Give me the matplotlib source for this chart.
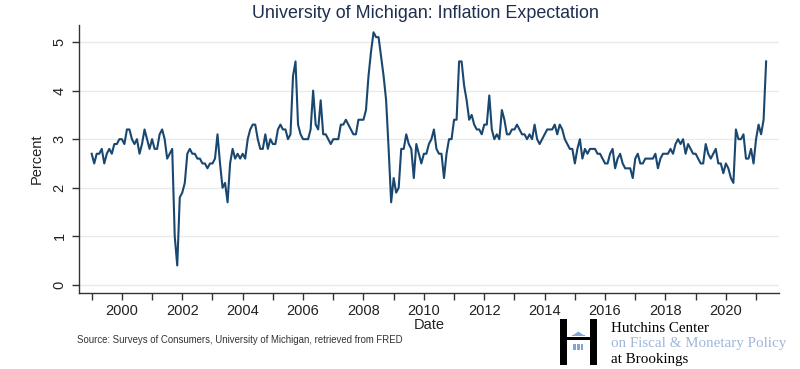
import numpy as np
import matplotlib
matplotlib.use("Agg")
import matplotlib.pyplot as plt
from matplotlib.patches import Rectangle, Polygon

plt.rcParams["font.family"] = ["Liberation Sans", "DejaVu Sans"]

# University of Michigan 1-year inflation expectation (monthly, Jan 1999 - May 2021)
start_year = 1999
mich = {
    1999: [2.7, 2.5, 2.7, 2.7, 2.8, 2.5, 2.7, 2.8, 2.7, 2.9, 2.9, 3.0],
    2000: [3.0, 2.9, 3.2, 3.2, 3.0, 2.9, 3.0, 2.7, 2.9, 3.2, 3.0, 2.8],
    2001: [3.0, 2.8, 2.8, 3.1, 3.2, 3.0, 2.6, 2.7, 2.8, 1.0, 0.4, 1.8],
    2002: [1.9, 2.1, 2.7, 2.8, 2.7, 2.7, 2.6, 2.6, 2.5, 2.5, 2.4, 2.5],
    2003: [2.5, 2.6, 3.1, 2.5, 2.0, 2.1, 1.7, 2.5, 2.8, 2.6, 2.7, 2.6],
    2004: [2.7, 2.6, 3.0, 3.2, 3.3, 3.3, 3.0, 2.8, 2.8, 3.1, 2.8, 3.0],
    2005: [2.9, 2.9, 3.2, 3.3, 3.2, 3.2, 3.0, 3.1, 4.3, 4.6, 3.3, 3.1],
    2006: [3.0, 3.0, 3.0, 3.2, 4.0, 3.3, 3.2, 3.8, 3.1, 3.1, 3.0, 2.9],
    2007: [3.0, 3.0, 3.0, 3.3, 3.3, 3.4, 3.3, 3.2, 3.1, 3.1, 3.4, 3.4],
    2008: [3.4, 3.6, 4.3, 4.8, 5.2, 5.1, 5.1, 4.7, 4.3, 3.8, 2.8, 1.7],
    2009: [2.2, 1.9, 2.0, 2.8, 2.8, 3.1, 2.9, 2.8, 2.2, 2.9, 2.7, 2.5],
    2010: [2.7, 2.7, 2.9, 3.0, 3.2, 2.8, 2.7, 2.7, 2.2, 2.7, 3.0, 3.0],
    2011: [3.4, 3.4, 4.6, 4.6, 4.1, 3.8, 3.4, 3.5, 3.3, 3.2, 3.2, 3.1],
    2012: [3.3, 3.3, 3.9, 3.2, 3.0, 3.1, 3.0, 3.6, 3.4, 3.1, 3.1, 3.2],
    2013: [3.2, 3.3, 3.2, 3.1, 3.1, 3.0, 3.1, 3.0, 3.3, 3.0, 2.9, 3.0],
    2014: [3.1, 3.2, 3.2, 3.2, 3.3, 3.1, 3.3, 3.2, 3.0, 2.9, 2.8, 2.8],
    2015: [2.5, 2.8, 3.0, 2.6, 2.8, 2.7, 2.8, 2.8, 2.8, 2.7, 2.7, 2.6],
    2016: [2.5, 2.5, 2.7, 2.8, 2.4, 2.6, 2.7, 2.5, 2.4, 2.4, 2.4, 2.2],
    2017: [2.6, 2.7, 2.5, 2.5, 2.6, 2.6, 2.6, 2.6, 2.7, 2.4, 2.6, 2.7],
    2018: [2.7, 2.7, 2.8, 2.7, 2.9, 3.0, 2.9, 3.0, 2.7, 2.9, 2.8, 2.7],
    2019: [2.7, 2.6, 2.5, 2.5, 2.9, 2.7, 2.6, 2.7, 2.8, 2.5, 2.5, 2.3],
    2020: [2.5, 2.4, 2.2, 2.1, 3.2, 3.0, 3.0, 3.1, 2.6, 2.6, 2.8, 2.5],
    2021: [3.0, 3.3, 3.1, 3.4, 4.6],
}
values = np.concatenate([mich[y] for y in sorted(mich)])
dates = start_year + np.arange(len(values)) / 12.0

major_years = list(range(2000, 2021, 2))
minor_years = list(range(1999, 2022, 2))
y_ticks = [0, 1, 2, 3, 4, 5]

W, H = 800, 369
fig = plt.figure(figsize=(W / 100, H / 100), dpi=100)
fig.patch.set_facecolor("white")

# axes placed by pixel bounds
left, right, top, bottom = 79, 779, 25, 292.7
ax = fig.add_axes([left / W, 1 - bottom / H, (right - left) / W, (bottom - top) / H])

ax.plot(dates, values, color="#1a476f", lw=1.5, solid_joinstyle="round")

ax.set_xlim(1998.58, 2021.76)
ax.set_ylim(-0.16, 5.35)

ax.set_yticks(y_ticks)
ax.set_yticklabels([str(t) for t in y_ticks], rotation=90, va="center")
ax.set_xticks(major_years)
ax.set_xticks(minor_years, minor=True)
ax.tick_params(axis="both", which="both", direction="out", length=5, width=1,
               color="#333333", labelsize=10.5, labelcolor="#222222")
ax.tick_params(axis="x", which="major", pad=3)
ax.tick_params(axis="y", pad=4)

ax.grid(axis="y", color="#e6ebee", lw=1.0)
ax.set_axisbelow(True)
for s in ["top", "right"]:
    ax.spines[s].set_visible(False)
for s in ["left", "bottom"]:
    ax.spines[s].set_color("#333333")
    ax.spines[s].set_linewidth(1.0)

ax.set_ylabel("Percent", fontsize=10.5, color="#222222", labelpad=6)
ax.set_xlabel("Date", fontsize=10.5, color="#222222", labelpad=0)

fig.text(0.5 * (left + right) / W - 0.005, 1 - 14 / H,
         "University of Michigan: Inflation Expectation",
         ha="center", va="center", fontsize=12.9, color="#1f2f4f")

fig.text(77 / W, 1 - 340 / H,
         "Source: Surveys of Consumers, University of Michigan, retrieved from FRED",
         ha="left", va="center", fontsize=6.9, color="#333333")


# Hutchins Center logo
def px_rect(x0, y0, x1, y1, color):
    return Rectangle((x0 / W, 1 - y1 / H), (x1 - x0) / W, (y1 - y0) / H,
                     transform=fig.transFigure, facecolor=color, edgecolor="none")


logo_blue = "#7fa6d4"
fig.add_artist(px_rect(560, 318.7, 567, 365.3, "black"))
fig.add_artist(px_rect(589.5, 318.7, 596.7, 365.3, "black"))
fig.add_artist(px_rect(567, 337, 589.5, 339.5, "black"))
fig.add_artist(Polygon([(571.7 / W, 1 - 336 / H), (585 / W, 1 - 336 / H),
                        (578.3 / W, 1 - 331.5 / H)],
                       closed=True, transform=fig.transFigure,
                       facecolor=logo_blue, edgecolor="none"))
fig.add_artist(px_rect(571.7, 335, 585, 336.3, logo_blue))
for cx in [574.5, 578.3, 582.1]:
    fig.add_artist(px_rect(cx - 1.3, 343.7, cx + 1.3, 350.3, logo_blue))

serif = ["Liberation Serif", "DejaVu Serif"]
fig.text(611 / W, 1 - 328 / H, "Hutchins Center", family=serif,
         fontsize=10.8, color="black", ha="left", va="center")
fig.text(611 / W, 1 - 344 / H, "on Fiscal & Monetary Policy", family=serif,
         fontsize=10.8, color="#9db7dc", ha="left", va="center")
fig.text(611 / W, 1 - 360 / H, "at Brookings", family=serif,
         fontsize=10.8, color="black", ha="left", va="center")

fig.savefig("out.png", dpi=100, facecolor="white")
